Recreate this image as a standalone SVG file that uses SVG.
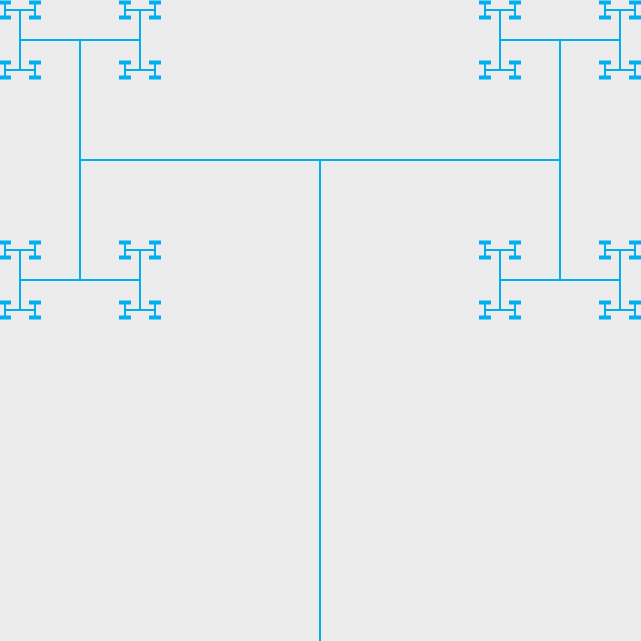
<svg xmlns="http://www.w3.org/2000/svg" xmlns:xlink="http://www.w3.org/1999/xlink" width="641" height="641" viewBox="0 0 641 641">
<style>
.h{fill:none;stroke:#00AEEF;stroke-width:2}
.t{fill:none;stroke:#00AEEF;stroke-width:4}
</style>
<defs>
<g id="d"><path class="t" d="M-6 0H6"/></g>
<g id="c"><path class="h" d="M-15 0H15M-15 -7.5V7.5M15 -7.5V7.5"/>
<use href="#d" x="-15" y="-7.5"/><use href="#d" x="15" y="-7.5"/><use href="#d" x="-15" y="7.5"/><use href="#d" x="15" y="7.5"/></g>
<g id="b"><path class="h" d="M-60 0H60M-60 -30V30M60 -30V30"/>
<use href="#c" x="-60" y="-30"/><use href="#c" x="60" y="-30"/><use href="#c" x="-60" y="30"/><use href="#c" x="60" y="30"/></g>
</defs>
<rect width="641" height="641" fill="#ECECEC"/>
<g id="tree">
<path class="h" d="M320 160V641M80 160H560M80 40V280M560 40V280"/>
<use href="#b" x="80" y="40"/><use href="#b" x="560" y="40"/><use href="#b" x="80" y="280"/><use href="#b" x="560" y="280"/>
</g>
</svg>
